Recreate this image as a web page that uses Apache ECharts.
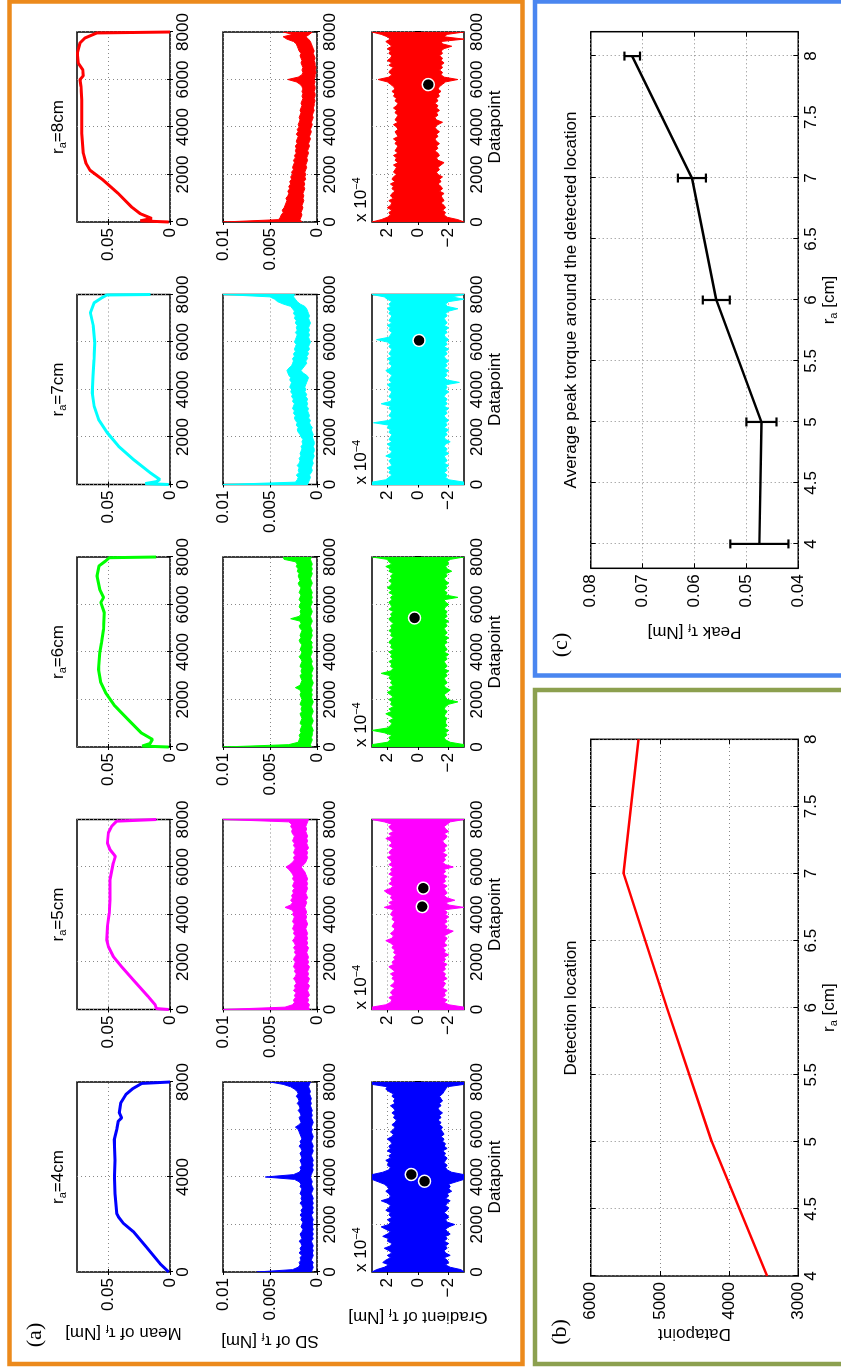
<!DOCTYPE html>
<html>
<head>
<meta charset="utf-8">
<script src="https://cdn.jsdelivr.net/npm/echarts@6.0.0/dist/echarts.min.js"></script>
<style>
  html, body { margin: 0; padding: 0; background: #fff; overflow: hidden; width: 841px; height: 1368px; }
  /* The figure is laid out landscape (1368 x 841) and turned a quarter turn counter-clockwise. */
  #chart { position: absolute; left: 0; top: 0; width: 1368px; height: 841px;
           transform-origin: 0 0; transform: translateY(1368px) rotate(-90deg); }
</style>
</head>
<body>
<div id="chart"></div>
<script>
// ---------------- data ----------------
const RADII = [4, 5, 6, 7, 8];                       // r_a in cm, one column each
const COLORS = ['#0000ff', '#ff00ff', '#00ff00', '#00ffff', '#ff0000'];
const SAMPLE_STEP = 100;                             // datapoints between envelope samples

// Mean of tau_f [Nm] : [datapoint, value]
const meanR4 = [[0,0.001],[350,0.008],[1050,0.019],[1700,0.0296],[2050,0.0376],[2330,0.0417],[2470,0.043],[3300,0.0444],[3950,0.0448],[4000,0.0458],[4050,0.0448],[4700,0.0444],[5570,0.0449],[6000,0.043],[6350,0.0417],[6490,0.039],[6700,0.0409],[7120,0.0398],[7480,0.0355],[7720,0.0301],[7940,0.0228],[7995,0.0215],[8000,0]];
const meanR5 = [[0,0.001],[40,0.011],[200,0.012],[535,0.0175],[1240,0.0296],[1800,0.039],[2225,0.0457],[2650,0.0497],[2930,0.051],[3490,0.0505],[4060,0.049],[4620,0.0484],[5470,0.0484],[6170,0.0457],[6450,0.044],[6730,0.0484],[7010,0.0505],[7440,0.0497],[7720,0.047],[7930,0.043],[7995,0.042],[8000,0.011]];
const meanR6 = [[0,0.001],[40,0.0224],[150,0.016],[320,0.0142],[600,0.0233],[1165,0.034],[1730,0.0445],[2290,0.052],[2710,0.0558],[3270,0.0576],[3970,0.0567],[4390,0.0552],[4950,0.0536],[5660,0.053],[6080,0.0558],[6290,0.0536],[6640,0.0567],[7200,0.0588],[7620,0.0573],[7830,0.052],[7970,0.049],[8000,0.0112]];
const meanR7 = [[0,0.001],[40,0.020],[120,0.011],[210,0.0082],[490,0.0158],[1050,0.0294],[1610,0.0415],[2180,0.0506],[2740,0.0576],[3300,0.0612],[3860,0.0627],[4560,0.0621],[5260,0.0612],[5970,0.0606],[6670,0.0618],[7230,0.0642],[7650,0.0612],[7860,0.055],[7980,0.051],[8000,0.0158]];
const meanR8 = [[0,0.001],[50,0.024],[150,0.0148],[350,0.024],[630,0.031],[1200,0.0417],[1760,0.0538],[2180,0.0645],[2470,0.0677],[2890,0.0699],[3730,0.0712],[5140,0.0712],[5700,0.0718],[5990,0.0726],[6150,0.0700],[6410,0.0704],[6690,0.074],[7110,0.0747],[7540,0.0726],[7750,0.0685],[7960,0.059],[8000,0]];

// SD of tau_f, upper / lower envelope in mNm, every SAMPLE_STEP datapoints (0..8000)
const sdHiR4 = [6.4,2.6,2.0,1.8,1.9,1.7,1.8,1.6,1.9,1.7, 1.8,1.6,1.7,1.9,1.6,1.7,1.8,1.6,1.5,1.7, 1.6,1.5,1.7,1.6,1.8,1.6,1.7,1.5,1.6,1.8, 1.6,1.7,1.6,1.8,1.7,1.6,1.8,1.7,1.9,2.4, 5.5,2.5,1.9,1.7,1.8,1.6,1.7,1.8,1.6,1.7, 1.8,1.6,1.7,1.9,1.7,1.8,1.6,1.7,1.8,1.9, 2.0,2.3,1.9,1.7,1.8,1.9,1.7,1.8,2.0,1.8, 1.9,2.1,1.9,2.0,2.2,2.0,2.1,2.4,2.8,3.6, 5.0];
const sdLoR4 = [0.6,0.5,0.4,0.5,0.4,0.6,0.5,0.4,0.5,0.4, 0.5,0.4,0.5,0.6,0.4,0.5,0.4,0.5,0.4,0.5, 0.4,0.5,0.4,0.5,0.6,0.4,0.5,0.4,0.5,0.4, 0.5,0.4,0.5,0.6,0.5,0.4,0.5,0.6,0.5,0.6, 0.7,0.6,0.5,0.4,0.5,0.4,0.5,0.4,0.5,0.6, 0.5,0.4,0.5,0.4,0.5,0.6,0.5,0.4,0.5,0.6, 0.5,0.6,0.5,0.4,0.5,0.6,0.5,0.6,0.5,0.6, 0.7,0.6,0.7,0.6,0.7,0.8,0.7,0.8,0.9,0.8, 0.7];
const sdHiR5 = [10,3.4,2.6,2.4,2.5,2.3,2.4,2.2,2.5,2.3, 2.4,2.2,2.3,2.5,2.3,2.2,2.4,2.3,2.5,2.4, 2.3,2.5,2.4,2.2,2.4,2.3,2.5,2.3,2.4,2.6, 2.4,2.3,2.5,2.4,2.6,2.5,2.4,2.6,2.5,2.4, 2.6,2.5,2.7,3.4,2.8,2.6,2.8,2.6,2.7,2.5, 2.6,2.4,2.6,2.5,2.4,2.6,2.5,2.6,2.8,3.0, 3.3,2.9,2.6,2.4,2.5,2.3,2.5,2.4,2.3,2.5, 2.4,2.6,2.5,2.4,2.6,2.7,2.6,2.8,2.7,3.0, 10];
const sdLoR5 = [0.8,0.9,0.8,1.0,0.9,1.0,0.8,0.9,1.0,0.9, 0.8,1.0,0.9,0.8,1.0,0.9,1.0,0.9,0.8,1.0, 0.9,1.0,0.9,1.0,1.1,1.0,0.9,1.1,1.0,1.1, 1.0,1.1,1.0,1.1,1.2,1.1,1.0,1.1,1.2,1.1, 1.2,1.1,1.2,1.3,1.2,1.1,1.2,1.0,1.1,1.2, 1.1,1.0,1.1,1.0,1.1,1.0,1.1,1.2,1.3,1.5, 1.7,1.4,1.2,1.1,1.0,1.1,1.0,1.1,0.9,1.0, 1.1,1.0,1.1,1.0,1.1,1.2,1.1,1.2,1.1,1.0, 0.9];
const sdHiR6 = [10,3.0,2.0,1.9,1.8,1.9,1.7,1.8,1.7,1.6, 1.8,1.7,1.6,1.7,1.8,1.6,1.7,1.6,1.8,1.7, 1.6,1.7,1.8,1.7,1.8,2.3,1.8,1.7,1.6,1.7, 1.8,1.6,1.7,1.6,1.8,1.7,1.6,1.7,1.9,1.7, 1.6,1.8,1.7,1.6,1.8,1.9,1.7,1.8,1.7,1.6, 1.8,1.9,1.7,1.8,2.8,1.9,1.7,1.8,1.7,1.9, 1.8,1.7,1.9,1.8,1.7,1.9,1.8,1.7,1.9,2.0, 1.8,1.9,2.0,1.9,2.1,2.0,2.2,2.1,2.3,3.5, 3.6];
const sdLoR6 = [0.6,0.7,0.6,0.5,0.6,0.5,0.5,0.4,0.5,0.6, 0.5,0.4,0.5,0.6,0.5,0.4,0.5,0.6,0.5,0.4, 0.5,0.6,0.5,0.6,0.5,0.6,0.5,0.4,0.5,0.6, 0.5,0.6,0.5,0.4,0.5,0.6,0.5,0.6,0.7,0.6, 0.5,0.6,0.5,0.6,0.5,0.7,0.6,0.5,0.6,0.5, 0.6,0.7,0.6,0.5,0.6,0.7,0.6,0.5,0.6,0.7, 0.6,0.5,0.6,0.5,0.6,0.5,0.6,0.7,0.6,0.5, 0.6,0.7,0.6,0.5,0.6,0.5,0.6,0.5,0.6,0.7, 0.6];
const sdHiR7 = [10,2.3,2.1,2.0,2.2,1.9,2.0,1.9,2.1,1.9, 1.8,1.9,1.7,1.8,1.7,1.6,1.7,1.5,1.6,1.5, 1.7,1.8,2.0,2.1,2.0,2.2,2.1,2.3,2.4,2.3, 2.5,2.4,2.6,2.5,2.4,2.6,2.5,2.7,2.6,2.8, 2.7,2.9,2.8,2.7,2.9,2.8,3.0,3.1,3.2,3.0, 2.7,2.6,2.5,2.6,2.4,2.5,2.3,2.4,2.3,2.2, 2.4,2.3,2.2,2.1,2.3,2.1,2.2,2.1,2.3,2.2, 2.4,2.3,2.5,2.4,2.6,2.8,3.6,4.2,4.5,5.0, 10];
const sdLoR7 = [1.0,0.9,0.8,0.7,0.8,0.6,0.5,0.6,0.5,0.4, 0.5,0.4,0.3,0.4,0.3,0.3,0.4,0.3,0.3,0.4, 0.5,0.4,0.5,0.6,0.5,0.7,0.8,0.7,0.9,0.8, 0.9,1.0,0.9,1.1,1.0,1.1,1.0,1.2,1.1,1.3, 1.2,1.3,1.2,1.1,1.0,0.9,1.1,1.5,1.7,1.5, 1.3,1.1,1.2,1.0,1.1,0.9,1.0,0.8,0.9,0.8, 0.7,0.8,0.9,0.8,0.9,0.8,0.9,0.8,0.7,0.8, 0.9,0.8,0.9,1.0,1.1,1.3,1.8,2.1,2.3,2.5, 2.4];
const sdHiR8 = [10,4.1,3.9,3.8,3.6,3.7,3.5,3.4,3.3,3.2, 3.3,3.1,3.0,3.1,2.9,3.0,2.8,2.9,2.7,2.8, 2.6,2.7,2.5,2.6,2.5,2.4,2.5,2.3,2.4,2.2, 2.3,2.2,2.3,2.1,2.2,2.1,2.0,2.2,2.0,2.1, 1.9,2.0,1.9,1.8,1.9,1.8,1.7,1.8,1.7,1.6, 1.7,1.6,1.5,1.6,1.5,1.6,1.5,1.6,1.8,2.2, 3.1,2.0,1.6,1.5,1.6,1.5,1.6,1.7,1.6,1.7, 1.8,1.7,1.9,2.0,2.1,2.2,2.5,3.2,3.6,2.6, 3.6];
const sdLoR8 = [1.6,1.8,1.7,1.6,1.7,1.6,1.5,1.6,1.5,1.4, 1.5,1.4,1.5,1.4,1.3,1.4,1.3,1.4,1.2,1.3, 1.2,1.3,1.2,1.1,1.2,1.1,1.0,1.1,1.0,0.9, 1.0,0.9,0.8,0.9,0.8,0.7,0.8,0.7,0.6,0.7, 0.6,0.5,0.6,0.5,0.4,0.5,0.4,0.3,0.4,0.3, 0.3,0.2,0.3,0.2,0.2,0.3,0.2,0.2,0.3,0.2, 0.3,0.2,0.2,0.1,0.2,0.1,0.2,0.2,0.3,0.2, 0.3,0.4,0.3,0.4,0.5,0.6,0.7,0.9,1.2,0.8, 0.5];

// Gradient of tau_f, upper / lower envelope in units of 1e-4 Nm, every SAMPLE_STEP datapoints
const gradHiR4 = [3.0,2.7,2.2,1.9,2.3,2.1,1.8,2.0,1.7,1.9, 2.2,1.8,1.7,2.0,1.9,2.3,2.0,1.8,2.1,2.4, 1.9,1.8,2.0,1.7,1.9,1.8,2.1,1.9,1.8,2.0, 2.4,1.9,1.8,1.9,2.1,1.9,2.0,2.2,2.6,3.0, 3.0,3.0,2.3,1.9,1.8,2.0,1.9,2.1,1.8,1.9, 1.7,2.0,1.8,1.9,1.7,1.8,2.0,1.7,1.6,1.8, 1.6,1.5,1.7,1.5,1.4,1.6,1.5,1.7,1.5,1.6, 1.8,1.5,1.6,1.5,1.7,1.6,1.9,2.1,2.0,3.0, 3.0];
const gradLoR4 = [-3.0,-2.8,-2.1,-1.8,-2.0,-1.9,-1.7,-2.1,-1.8,-1.7, -1.9,-1.8,-2.0,-1.7,-1.9,-1.8,-2.1,-1.9,-1.8,-2.0, -2.4,-1.9,-1.8,-2.0,-1.9,-1.7,-1.9,-2.0,-1.8,-1.9, -2.1,-1.8,-2.0,-1.9,-2.2,-2.0,-2.1,-2.0,-2.5,-3.0, -3.0,-3.0,-2.2,-1.9,-1.8,-1.9,-1.7,-1.8,-1.9,-1.7, -1.8,-1.6,-1.9,-1.7,-1.8,-1.6,-1.7,-1.5,-1.7,-1.6, -1.5,-1.6,-1.4,-1.5,-1.3,-1.5,-1.4,-1.6,-1.4,-1.3, -1.5,-1.4,-1.6,-1.5,-1.4,-1.6,-1.7,-1.8,-1.9,-3.0, -3.0];
const gradHiR5 = [3.0,3.0,2.1,1.8,1.7,1.9,1.6,1.8,1.7,1.5, 1.8,1.6,1.5,1.7,1.6,1.8,1.5,1.7,1.9,1.6, 1.7,1.5,1.6,1.4,1.6,1.5,1.7,1.6,1.8,2.1, 1.7,1.6,1.8,1.6,1.5,1.7,1.6,1.5,1.7,1.6, 1.8,1.7,1.6,2.2,1.7,1.9,1.6,1.8,1.7,2.0, 2.2,1.8,1.6,1.9,1.7,1.8,1.6,1.9,1.7,1.8, 1.6,1.9,1.7,1.8,2.0,1.7,1.9,1.8,1.6,1.9, 1.7,1.8,2.1,1.7,1.9,1.6,1.8,1.9,1.7,2.2, 3.0];
const gradLoR5 = [-3.0,-3.0,-2.0,-1.7,-1.9,-1.6,-1.8,-1.7,-1.9,-1.6, -1.7,-1.8,-1.6,-1.9,-1.7,-1.8,-1.6,-1.8,-1.7,-1.9, -1.6,-1.8,-1.7,-2.0,-1.7,-1.8,-1.6,-1.9,-1.7,-1.8, -1.9,-1.7,-2.0,-2.3,-1.8,-1.9,-1.7,-1.9,-1.8,-2.0, -1.8,-1.9,-1.7,-3.0,-2.0,-1.8,-2.4,-1.9,-1.7,-1.9, -1.8,-1.7,-1.9,-1.6,-1.8,-1.7,-1.9,-1.6,-1.8,-1.7, -2.3,-1.8,-1.6,-1.8,-1.7,-1.9,-1.6,-1.8,-1.7,-1.9, -1.7,-1.6,-1.8,-1.9,-1.7,-2.0,-1.8,-1.7,-1.9,-2.1, -3.0];
const gradHiR6 = [3.0,3.0,2.0,1.8,1.9,1.7,2.2,3.0,2.0,1.8, 1.7,1.9,1.6,1.8,2.1,1.7,1.9,1.6,1.8,1.7, 1.9,1.6,1.8,2.0,1.7,1.9,1.6,1.8,1.7,1.9, 1.8,2.4,1.8,1.6,1.8,1.7,1.9,1.6,1.8,1.7, 1.9,1.6,1.8,1.7,1.9,1.8,1.6,1.8,1.7,1.9, 1.7,1.8,1.6,1.8,1.9,1.7,1.8,1.6,1.9,1.7, 1.8,1.9,1.7,1.8,1.6,1.9,1.7,2.0,1.8,1.7, 1.9,1.7,1.8,1.6,1.9,1.8,2.1,1.7,1.9,2.0, 3.0];
const gradLoR6 = [-3.0,-3.0,-2.1,-1.8,-1.7,-1.9,-1.8,-2.0,-1.7,-1.9, -1.8,-1.8,-1.9,-1.7,-1.8,-1.9,-1.7,-1.8,-2.0,-2.6, -1.9,-1.8,-1.7,-1.9,-2.1,-1.8,-1.7,-1.9,-1.8,-1.7, -1.9,-1.8,-2.0,-1.7,-1.9,-1.8,-1.7,-1.9,-1.8,-2.0, -1.7,-1.9,-1.8,-1.7,-1.9,-1.8,-2.0,-1.7,-1.9,-1.8, -1.7,-1.9,-1.8,-2.0,-1.7,-1.9,-1.8,-1.9,-1.7,-1.8, -2.0,-1.8,-1.7,-2.6,-1.8,-1.9,-1.7,-1.9,-1.8,-2.0, -1.8,-1.7,-1.9,-1.8,-2.2,-1.9,-1.8,-2.0,-1.9,-2.1, -3.0];
const gradHiR7 = [3.0,3.0,2.1,1.9,1.7,1.9,1.8,2.0,1.7,1.8, 1.9,1.7,2.1,1.8,1.7,1.9,1.8,2.0,1.7,1.9, 1.8,1.7,1.9,1.8,2.0,1.9,2.9,1.9,1.7,1.9, 1.8,1.7,1.9,1.8,2.4,1.8,1.7,1.9,1.8,1.7, 1.9,1.8,2.0,1.7,1.9,1.8,1.7,1.9,2.1,1.8, 1.7,1.9,1.8,2.0,1.7,1.9,1.8,1.7,1.9,1.8, 2.0,2.7,1.9,1.8,1.7,1.9,1.8,2.0,1.7,1.9, 1.8,1.7,1.9,1.8,2.0,1.8,1.9,1.7,2.0,2.2, 3.0];
const gradLoR7 = [-3.0,-3.0,-2.0,-1.8,-1.9,-1.7,-1.9,-1.8,-2.0,-1.7, -1.9,-1.8,-1.7,-2.0,-1.8,-1.9,-1.7,-1.8,-2.1,-1.8, -1.7,-1.9,-1.8,-2.0,-1.7,-1.9,-1.8,-2.0,-1.8,-1.7, -1.9,-1.8,-2.0,-1.7,-1.9,-1.8,-1.9,-1.7,-1.8,-2.0, -1.8,-1.9,-1.8,-2.7,-1.9,-1.7,-1.9,-1.8,-2.0,-1.7, -1.9,-1.8,-2.0,-1.8,-1.7,-1.9,-1.8,-2.0,-1.7,-1.9, -1.8,-2.0,-1.8,-1.7,-1.9,-1.8,-2.0,-1.7,-1.9,-1.8, -1.7,-1.9,-1.8,-2.0,-2.6,-1.9,-1.8,-2.0,-3.0,-2.2, -3.0];
const gradHiR8 = [3.0,2.4,2.0,1.8,1.9,1.7,2.0,1.8,1.7,1.9, 1.6,1.8,1.7,1.5,1.7,1.6,1.8,1.5,1.7,1.6, 1.4,1.6,1.5,1.4,1.6,1.3,1.5,1.4,1.6,1.3, 1.5,1.4,1.3,1.5,1.4,1.6,1.3,1.4,1.5,1.3, 1.4,1.6,1.3,1.5,1.4,1.3,1.5,1.4,1.6,1.4, 1.3,1.5,1.4,1.6,1.5,1.7,1.5,1.6,1.8,2.0, 2.6,1.9,1.7,1.9,1.8,1.6,1.9,1.7,2.0,1.8, 1.7,1.9,1.8,2.0,1.7,1.9,2.1,1.8,2.0,2.4, 3.0];
const gradLoR8 = [-3.0,-2.6,-1.9,-1.7,-1.8,-1.6,-1.8,-1.7,-1.5,-1.7, -1.6,-1.5,-1.7,-1.4,-1.6,-1.5,-1.3,-1.5,-1.4,-1.6, -1.3,-1.2,-1.4,-1.3,-1.5,-1.7,-1.3,-1.2,-1.4,-1.3, -1.1,-1.3,-1.2,-1.4,-1.2,-1.1,-1.3,-1.2,-1.4,-1.2, -1.1,-1.3,-1.6,-1.2,-1.1,-1.3,-1.2,-1.4,-1.2,-1.3, -1.1,-1.3,-1.2,-1.4,-1.3,-1.5,-1.3,-1.4,-1.6,-1.8, -2.6,-1.7,-1.5,-1.6,-1.4,-1.6,-1.5,-1.7,-1.5,-1.6, -1.4,-1.6,-1.5,-1.7,-2.2,-1.6,-1.5,-3.0,-1.7,-1.9, -3.0];

// Detected locations on the gradient trace: [datapoint, gradient (1e-4 Nm)]
const detectedR4 = [[4106, 0.44], [3822, -0.42]];
const detectedR5 = [[5109, -0.34], [4331, -0.27]];
const detectedR6 = [[5435, 0.23]];
const detectedR7 = [[6066, -0.07]];
const detectedR8 = [[5786, -0.67]];

// (b) detection location per radius
const detectionRadius = [4, 5, 6, 7, 8];
const detectionDatapoint = [3450, 4250, 4900, 5525, 5310];

// (c) average peak torque with its spread
const peakRadius = [4, 5, 6, 7, 8];
const peakTorque = [0.0475, 0.0471, 0.0558, 0.0605, 0.0720];
const peakTorqueSD = [0.0056, 0.0029, 0.0026, 0.0027, 0.0015];

// Axis tick values
const meanTicks = [0, 0.05];
const gradTicks = [-2, 0, 2];
const radiusTicks = [4, 4.5, 5, 5.5, 6, 6.5, 7, 7.5, 8];

// ---------------- styling ----------------
const FONT = '"Liberation Sans", Arial, Helvetica, sans-serif';
const SERIF = '"Liberation Serif", "Times New Roman", serif';
const RICH = {
  t: { fontSize: 17, fontFamily: FONT, color: '#000', lineHeight: 20 },
  s: { fontSize: 11, fontFamily: FONT, color: '#000', lineHeight: 8, verticalAlign: 'bottom' },
  p: { fontSize: 11, fontFamily: FONT, color: '#000', lineHeight: 8, verticalAlign: 'top' }
};
const GRID_LINE = { show: true, lineStyle: { color: '#888', width: 1, type: [1, 3] } };
// plain numbers, true minus sign, no thousands separators
const tickText = v => String(+Number(v).toPrecision(10)).replace('-', '\u2212');

const grids = [], xAxes = [], yAxes = [], series = [], graphics = [];

// One boxed plot: bottom/left axes with labels, mirrored ticks on top/right.
function addPlot(p) {
  const gi = grids.length;
  grids.push({ left: p.left, top: p.top, width: p.width, height: p.height, show: true,
               borderColor: '#000', borderWidth: 1.5, backgroundColor: '#fff' });
  const tl = p.tickLen || 3;
  const mkAxis = (dim, main) => {
    const a = {
      type: 'value', gridIndex: gi,
      position: dim === 'x' ? (main ? 'bottom' : 'top') : (main ? 'left' : 'right'),
      min: p[dim + 'Min'], max: p[dim + 'Max'],
      axisLine: { show: false },
      axisTick: { show: true, inside: true, length: tl, lineStyle: { color: '#000', width: 1 } },
      axisLabel: { show: main, color: '#000', fontSize: 17, fontFamily: FONT,
                   margin: dim === 'x' ? 5 : 6, formatter: tickText },
      splitLine: main ? GRID_LINE : { show: false }
    };
    if (p[dim + 'Interval']) a.interval = p[dim + 'Interval'];
    if (p[dim + 'Ticks']) { a.axisLabel.customValues = p[dim + 'Ticks']; a.axisTick.customValues = p[dim + 'Ticks']; }
    if (main && p[dim + 'Name']) {
      a.name = p[dim + 'Name'];
      a.nameLocation = 'middle';
      a.nameGap = p[dim + 'NameGap'];
      a.nameTextStyle = { color: '#000', fontSize: 17, fontFamily: FONT, rich: RICH };
    }
    return a;
  };
  const xi = xAxes.length; xAxes.push(mkAxis('x', true)); xAxes.push(mkAxis('x', false));
  const yi = yAxes.length; yAxes.push(mkAxis('y', true)); yAxes.push(mkAxis('y', false));
  return { xi, yi };
}

// Filled band between an upper and a lower envelope sampled every SAMPLE_STEP datapoints.
function bandSeries(ax, hi, lo, scale, color) {
  return {
    type: 'custom', xAxisIndex: ax.xi, yAxisIndex: ax.yi, clip: true, silent: true, z: 2,
    data: hi.map((v, i) => [i * SAMPLE_STEP, lo[i] * scale, v * scale]),
    encode: { x: 0, y: [1, 2] },
    renderItem: (params, api) => {
      if (params.dataIndex !== 0) return null;
      const upper = hi.map((v, i) => api.coord([i * SAMPLE_STEP, v * scale]));
      const lower = lo.map((v, i) => api.coord([i * SAMPLE_STEP, v * scale])).reverse();
      return { type: 'polygon', shape: { points: upper.concat(lower) },
               style: { fill: color, stroke: color, lineWidth: 1 } };
    }
  };
}

// ---------------- panel (a) ----------------
const COLUMNS = [
  { mean: meanR4, sdHi: sdHiR4, sdLo: sdLoR4, gHi: gradHiR4, gLo: gradLoR4, dots: detectedR4, meanStep: 4000 },
  { mean: meanR5, sdHi: sdHiR5, sdLo: sdLoR5, gHi: gradHiR5, gLo: gradLoR5, dots: detectedR5, meanStep: 2000 },
  { mean: meanR6, sdHi: sdHiR6, sdLo: sdLoR6, gHi: gradHiR6, gLo: gradLoR6, dots: detectedR6, meanStep: 2000 },
  { mean: meanR7, sdHi: sdHiR7, sdLo: sdLoR7, gHi: gradHiR7, gLo: gradLoR7, dots: detectedR7, meanStep: 2000 },
  { mean: meanR8, sdHi: sdHiR8, sdLo: sdLoR8, gHi: gradHiR8, gLo: gradLoR8, dots: detectedR8, meanStep: 2000 }
];
const COL_LEFT = 96, COL_STEP = 262.5, PLOT_W = 190;

COLUMNS.forEach((c, k) => {
  const left = COL_LEFT + k * COL_STEP;
  const color = COLORS[k];
  const first = k === 0;

  const axMean = addPlot({ left, top: 77, width: PLOT_W, height: 93,
    xMin: 0, xMax: 8000, xInterval: c.meanStep,
    yMin: 0, yMax: 0.075, yTicks: meanTicks,
    yName: first ? '{t|Mean of τ}{s|f}{t| [Nm]}' : null, yNameGap: 51 });
  series.push({ type: 'line', xAxisIndex: axMean.xi, yAxisIndex: axMean.yi, data: c.mean,
    showSymbol: false, symbol: 'none', clip: true, z: 3,
    lineStyle: { color, width: 3 }, itemStyle: { color } });

  const axSd = addPlot({ left, top: 223, width: PLOT_W, height: 94,
    xMin: 0, xMax: 8000, xInterval: 2000,
    yMin: 0, yMax: 0.01, yInterval: 0.005,
    yName: first ? '{t|SD of τ}{s|f}{t| [Nm]}' : null, yNameGap: 59 });
  series.push(bandSeries(axSd, c.sdHi, c.sdLo, 0.001, color));

  const axGrad = addPlot({ left, top: 372, width: PLOT_W, height: 92,
    xMin: 0, xMax: 8000, xInterval: 2000,
    yMin: -3, yMax: 3, yTicks: gradTicks,
    xName: 'Datapoint', xNameGap: 23,
    yName: first ? '{t|Gradient of τ}{s|f}{t| [Nm]}' : null, yNameGap: 35 });
  series.push(bandSeries(axGrad, c.gHi, c.gLo, 1, color));
  series.push({ type: 'scatter', xAxisIndex: axGrad.xi, yAxisIndex: axGrad.yi, data: c.dots,
    symbolSize: 12, z: 5, itemStyle: { color: '#000', borderColor: '#fff', borderWidth: 1.5, opacity: 1 } });

  graphics.push({ type: 'text', x: left + PLOT_W / 2, y: 58.5, z: 10,
    style: { text: '{t|r}{s|a}{t|=' + RADII[k] + 'cm}', rich: RICH, align: 'center', verticalAlign: 'middle' } });
  graphics.push({ type: 'text', x: left, y: 361, z: 10,
    style: { text: '{t|x 10}{p|\u22124}', rich: RICH, align: 'left', verticalAlign: 'middle' } });
});

// ---------------- panel (b) ----------------
const axB = addPlot({ left: 92, top: 590.7, width: 536.7, height: 207.6, tickLen: 5,
  xMin: 4, xMax: 8, xInterval: 0.5, yMin: 3000, yMax: 6000, yInterval: 1000,
  xName: '{t|r}{s|a}{t| [cm]}', xNameGap: 21, yName: 'Datapoint', yNameGap: 49 });
series.push({ type: 'line', xAxisIndex: axB.xi, yAxisIndex: axB.yi,
  data: detectionRadius.map((r, i) => [r, detectionDatapoint[i]]),
  showSymbol: false, symbol: 'none', lineStyle: { color: '#ff0000', width: 2.5 }, itemStyle: { color: '#ff0000' } });

// ---------------- panel (c) ----------------
const axC = addPlot({ left: 799.7, top: 590.7, width: 536.6, height: 207.6, tickLen: 5,
  xMin: 3.8, xMax: 8.2, xTicks: radiusTicks, yMin: 0.04, yMax: 0.08, yInterval: 0.01,
  xName: '{t|r}{s|a}{t| [cm]}', xNameGap: 21, yName: '{t|Peak τ}{s|f}{t| [Nm]}', yNameGap: 53 });
series.push({ type: 'line', xAxisIndex: axC.xi, yAxisIndex: axC.yi,
  data: peakRadius.map((r, i) => [r, peakTorque[i]]),
  showSymbol: false, symbol: 'none', lineStyle: { color: '#000', width: 2.5 }, itemStyle: { color: '#000' } });
series.push({ type: 'custom', xAxisIndex: axC.xi, yAxisIndex: axC.yi, z: 4,
  data: peakRadius.map((r, i) => [r, peakTorque[i], peakTorqueSD[i]]),
  encode: { x: 0, y: 1 },
  renderItem: (params, api) => {
    const r = api.value(0), m = api.value(1), s = api.value(2);
    const a = api.coord([r, m + s]), b = api.coord([r, m - s]);
    const cap = 4.5, st = { stroke: '#000', lineWidth: 2.2 };
    return { type: 'group', children: [
      { type: 'line', shape: { x1: a[0], y1: a[1], x2: b[0], y2: b[1] }, style: st },
      { type: 'line', shape: { x1: a[0] - cap, y1: a[1], x2: a[0] + cap, y2: a[1] }, style: st },
      { type: 'line', shape: { x1: b[0] - cap, y1: b[1], x2: b[0] + cap, y2: b[1] }, style: st }
    ] };
  } });

// ---------------- frames, titles, panel letters ----------------
graphics.push(
  { type: 'rect', z: 20, shape: { x: 4, y: 9.5, width: 1362.5, height: 513 },
    style: { fill: 'none', stroke: '#ec8a1c', lineWidth: 4.5 } },
  { type: 'rect', z: 20, shape: { x: 4, y: 535, width: 674, height: 330 },
    style: { fill: 'none', stroke: '#8ca04f', lineWidth: 4.5 } },
  { type: 'rect', z: 20, shape: { x: 692.5, y: 535, width: 674, height: 330 },
    style: { fill: 'none', stroke: '#4a86f0', lineWidth: 4.5 } },
  { type: 'text', x: 33, y: 35, z: 10,
    style: { text: '(a)', fontSize: 22, fontFamily: SERIF, fill: '#000', align: 'center', verticalAlign: 'middle' } },
  { type: 'text', x: 36, y: 560, z: 10,
    style: { text: '(b)', fontSize: 22, fontFamily: SERIF, fill: '#000', align: 'center', verticalAlign: 'middle' } },
  { type: 'text', x: 723, y: 561, z: 10,
    style: { text: '(c)', fontSize: 22, fontFamily: SERIF, fill: '#000', align: 'center', verticalAlign: 'middle' } },
  { type: 'text', x: 360, y: 571, z: 10,
    style: { text: 'Detection location', fontSize: 17, fontFamily: FONT, fill: '#000', align: 'center', verticalAlign: 'middle' } },
  { type: 'text', x: 1068, y: 571, z: 10,
    style: { text: 'Average peak torque around the detected location', fontSize: 17, fontFamily: FONT, fill: '#000', align: 'center', verticalAlign: 'middle' } }
);

const chart = echarts.init(document.getElementById('chart'), null, { renderer: 'canvas', width: 1368, height: 841 });
chart.setOption({
  animation: false,
  backgroundColor: '#fff',
  grid: grids, xAxis: xAxes, yAxis: yAxes, series, graphic: graphics
});
</script>
</body>
</html>
